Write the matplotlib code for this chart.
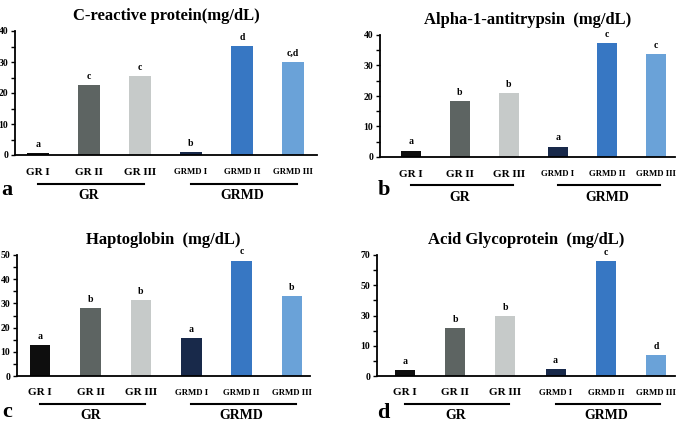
import matplotlib.pyplot as plt
import matplotlib.transforms as mtransforms
from matplotlib.ticker import MultipleLocator, FixedLocator, FixedFormatter

plt.rcParams['font.family'] = ['Liberation Serif', 'DejaVu Serif']
plt.rcParams['font.weight'] = 'bold'

# данные
groups = ['GR I', 'GR II', 'GR III', 'GRMD I', 'GRMD II', 'GRMD III']
colors = ['#0e0e0e', '#5d6462', '#c6cac9', '#18294a', '#3777c3', '#6aa2d8']

crp = [0.6, 22.5, 25.4, 0.9, 35.2, 30.0]
crp_sig = ['a', 'c', 'c', 'b', 'd', 'c,d']

aat = [2.1, 18.3, 20.9, 3.4, 37.3, 33.8]
aat_sig = ['a', 'b', 'b', 'a', 'c', 'c']

hp = [12.7, 28.2, 31.3, 15.8, 47.7, 32.9]
hp_sig = ['a', 'b', 'b', 'a', 'c', 'b']

# ось d подписана 0,10,30,50,70 с равным шагом - значения в позициях оси
agp = [1.9, 15.9, 19.8, 2.4, 38.1, 7.0]
agp_sig = ['a', 'b', 'b', 'a', 'c', 'd']
agp_ticks = [0, 10, 20, 30, 40]
agp_labels = ['0', '10', '30', '50', '70']

W, H = 681, 425
fig = plt.figure(figsize=(W / 100, H / 100), dpi=100)


def px_axes(left, top, right, bottom):
    return fig.add_axes([left / W, 1 - bottom / H, (right - left) / W, (bottom - top) / H])


def panel(ax, vals, sig, title, ymax, xlim, bw):
    x = list(range(len(groups)))
    ax.bar(x, vals, width=bw, color=colors)
    for xi, v, s in zip(x, vals, sig):
        ax.annotate(s, (xi, v), xytext=(0, 3), textcoords='offset points',
                    ha='center', va='bottom', fontsize=7, fontweight='bold')
    ax.set_xlim(*xlim)
    ax.set_ylim(0, ymax)
    ax.spines['top'].set_visible(False)
    ax.spines['right'].set_visible(False)
    ax.spines['left'].set_linewidth(1.3)
    ax.spines['bottom'].set_linewidth(1.3)
    ax.set_xticks([])
    ax.tick_params(axis='y', which='both', direction='out', length=3, width=1,
                   labelsize=7, pad=2)
    ax.set_title(title, fontsize=12, fontweight='bold', pad=8)

    tr = mtransforms.blended_transform_factory(ax.transData, ax.transAxes)
    for xi, g in zip(x, groups):
        fs = 8 if g.startswith('GR ') else 6.3
        ax.text(xi, -0.14, g, transform=tr, ha='center', va='center',
                fontsize=fs, fontweight='bold', clip_on=False)
    # линии под группами
    for lo, hi, name in [(0, 2, 'GR'), (3, 5, 'GRMD')]:
        ax.plot([x[lo], x[hi] + 0.08], [-0.23, -0.23], transform=tr,
                color='black', lw=1.5, clip_on=False)
        ax.text((x[lo] + x[hi]) / 2, -0.33, name, transform=tr, ha='center',
                va='center', fontsize=10, fontweight='bold', clip_on=False)


ax_a = px_axes(15, 31, 317, 155)
panel(ax_a, crp, crp_sig, 'C-reactive protein(mg/dL)', 40, (-0.45, 5.47), 0.43)
ax_a.yaxis.set_major_locator(MultipleLocator(10))
ax_a.yaxis.set_minor_locator(MultipleLocator(5))

ax_b = px_axes(380, 35, 675, 157)
panel(ax_b, aat, aat_sig, 'Alpha-1-antitrypsin  (mg/dL)', 40, (-0.63, 5.39), 0.4)
ax_b.yaxis.set_major_locator(MultipleLocator(10))
ax_b.yaxis.set_minor_locator(MultipleLocator(5))

ax_c = px_axes(17, 255, 310, 376)
panel(ax_c, hp, hp_sig, 'Haptoglobin  (mg/dL)', 50, (-0.46, 5.36), 0.41)
ax_c.yaxis.set_major_locator(MultipleLocator(10))
ax_c.yaxis.set_minor_locator(MultipleLocator(5))

ax_d = px_axes(377, 255, 675, 376)
panel(ax_d, agp, agp_sig, 'Acid Glycoprotein  (mg/dL)', 40, (-0.56, 5.38), 0.4)
ax_d.yaxis.set_major_locator(FixedLocator(agp_ticks))
ax_d.yaxis.set_major_formatter(FixedFormatter(agp_labels))
ax_d.yaxis.set_minor_locator(MultipleLocator(5))

# буквы панелей
for lx, ly, letter in [(7, 190, 'a'), (384, 190, 'b'), (7, 412, 'c'), (383, 413, 'd')]:
    fig.text(lx / W, 1 - ly / H, letter, ha='center', va='center',
             fontsize=16, fontweight='bold')

plt.savefig('out.png', dpi=100)
